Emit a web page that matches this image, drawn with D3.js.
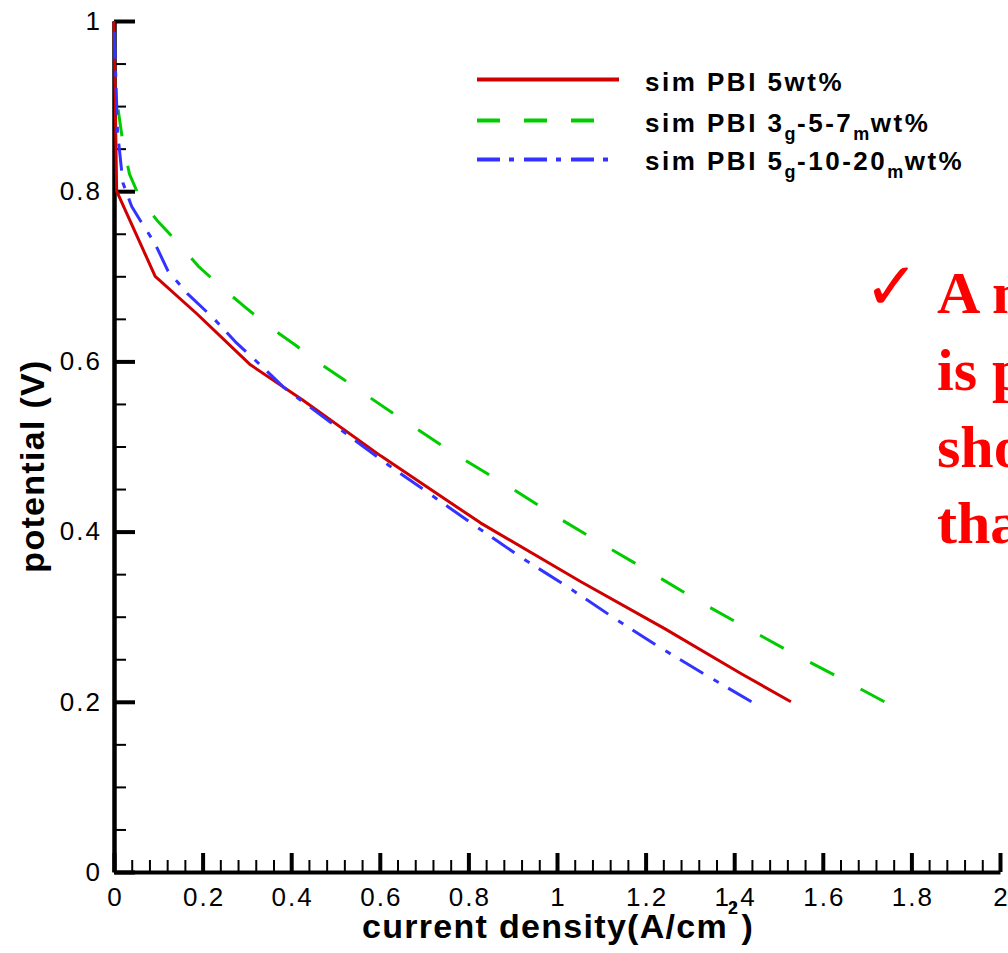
<!DOCTYPE html>
<html>
<head>
<meta charset="utf-8">
<script src="https://cdn.jsdelivr.net/npm/d3@7"></script>
<style>
  html, body { margin: 0; padding: 0; background: #fff; overflow: hidden; }
  svg { display: block; }
</style>
</head>
<body>
<svg id="chart" width="1008" height="953"></svg>
<script>
// ---- data ----
const xTicks = [0, 0.2, 0.4, 0.6, 0.8, 1, 1.2, 1.4, 1.6, 1.8, 2];
const yTicks = [0, 0.2, 0.4, 0.6, 0.8, 1];

const redX = [0, 0.006, 0.093, 0.187, 0.308, 0.425, 0.602, 0.828, 1.054, 1.243, 1.416, 1.528];
const redV = [1.0, 0.80, 0.70, 0.656, 0.596, 0.555, 0.489, 0.410, 0.341, 0.286, 0.233, 0.2];

const greenX = [0, 0.02, 0.035, 0.06, 0.10, 0.145, 0.19, 0.245, 0.30, 0.35, 0.41, 0.46, 0.515, 0.568, 0.624, 0.779, 0.888, 0.994, 1.103, 1.209, 1.314, 1.424, 1.532, 1.639, 1.739];
const greenV = [0.93, 0.857, 0.82, 0.79, 0.764, 0.739, 0.712, 0.686, 0.662, 0.641, 0.619, 0.599, 0.580, 0.561, 0.541, 0.488, 0.454, 0.419, 0.385, 0.353, 0.320, 0.288, 0.257, 0.228, 0.2];

const blueX = [0, 0.008, 0.02, 0.04, 0.06, 0.093, 0.122, 0.167, 0.224, 0.274, 0.33, 0.382, 0.42, 0.62, 0.70, 0.809, 0.918, 1.024, 1.13, 1.235, 1.344, 1.439];
const blueV = [1.0, 0.87, 0.81, 0.782, 0.765, 0.738, 0.706, 0.679, 0.651, 0.623, 0.596, 0.570, 0.555, 0.478, 0.449, 0.409, 0.370, 0.335, 0.298, 0.263, 0.229, 0.2];

const noteLines = ["A n", "is p", "sho", "tha"];

// ---- layout ----
const svg = d3.select("#chart");
const x = d3.scaleLinear().domain([0, 2]).range([114, 1000]);
const y = d3.scaleLinear().domain([0, 1]).range([872, 21]);

const series = [
  {x: redX, v: redV, color: "#d00000", dash: null, legDash: null},
  {x: greenX, v: greenV, color: "#00cc00", dash: "27,30", legDash: "23,24"},
  {x: blueX, v: blueV, color: "#3333ff", dash: "27,11,6,12", legDash: "23,9,5,10"}
];

const sansFont = "'Liberation Sans', Arial, sans-serif";

// minor ticks
const xMinor = d3.range(0, 2.0001, 0.04).filter(d => Math.abs(d / 0.2 - Math.round(d / 0.2)) > 1e-6);
const yMinor = d3.range(0, 1.0001, 0.05).filter(d => Math.abs(d / 0.2 - Math.round(d / 0.2)) > 1e-6);

const gxMinor = svg.append("g").attr("transform", "translate(0,872)")
  .call(d3.axisBottom(x).tickValues(xMinor).tickSizeInner(-12).tickSizeOuter(0).tickFormat(""));
gxMinor.select(".domain").remove();
gxMinor.selectAll(".tick line").attr("stroke", "#000").attr("stroke-width", 2);

const gyMinor = svg.append("g").attr("transform", "translate(114,0)")
  .call(d3.axisLeft(y).tickValues(yMinor).tickSizeInner(-12).tickSizeOuter(0).tickFormat(""));
gyMinor.select(".domain").remove();
gyMinor.selectAll(".tick line").attr("stroke", "#000").attr("stroke-width", 2);

// major axes
const gx = svg.append("g").attr("transform", "translate(0,872)")
  .call(d3.axisBottom(x).tickValues(xTicks).tickSizeInner(-19).tickSizeOuter(0).tickPadding(16)
    .tickFormat(d3.format("~g")));
gx.select(".domain").attr("stroke", "#000").attr("stroke-width", 4);
gx.selectAll(".tick line").attr("stroke", "#000").attr("stroke-width", 4);
gx.selectAll(".tick text").attr("font-family", sansFont)
  .attr("font-size", 26).attr("letter-spacing", 2).attr("dx", 1).attr("fill", "#000");

const gy = svg.append("g").attr("transform", "translate(114,0)")
  .call(d3.axisLeft(y).tickValues(yTicks).tickSizeInner(-21).tickSizeOuter(0).tickPadding(12)
    .tickFormat(d3.format("~g")));
gy.select(".domain").attr("stroke", "#000").attr("stroke-width", 4.5);
gy.selectAll(".tick line").attr("stroke", "#000").attr("stroke-width", 4);
gy.selectAll(".tick text").attr("font-family", sansFont)
  .attr("font-size", 26).attr("letter-spacing", 2).attr("fill", "#000");

// series lines (drawn from the high-current end so the dash pattern ends on a dash)
const line = d3.line().x(d => x(d[0])).y(d => y(d[1]));
series.forEach(s => {
  const pts = s.x.map((xv, i) => [xv, s.v[i]]).reverse();
  svg.append("path").datum(pts).attr("d", line)
    .attr("fill", "none").attr("stroke", s.color).attr("stroke-width", 3)
    .attr("stroke-dasharray", s.dash).attr("stroke-linejoin", "round");
});

// axis titles
svg.append("text")
  .attr("transform", "translate(44,466) rotate(-90)")
  .attr("text-anchor", "middle")
  .attr("font-family", sansFont)
  .attr("font-weight", "bold").attr("font-size", 34).attr("letter-spacing", 1.3)
  .text("potential (V)");

const xt = svg.append("text")
  .attr("x", 362).attr("y", 938)
  .attr("font-family", sansFont)
  .attr("font-weight", "bold").attr("font-size", 34).attr("letter-spacing", 1.3);
xt.append("tspan").text("current density(A/cm");
xt.append("tspan").attr("font-size", 18).attr("dy", -24).text("2");
xt.append("tspan").attr("dy", 24).attr("dx", 2).text(")");

// legend
const legY = [79.5, 120.5, 159.5];
const legBase = [91, 131.7, 170];
const legLen = [142, 117, 134];
series.forEach((s, i) => {
  svg.append("line").attr("x1", 477).attr("x2", 477 + legLen[i])
    .attr("y1", legY[i]).attr("y2", legY[i])
    .attr("stroke", s.color).attr("stroke-width", 4)
    .attr("stroke-dasharray", s.legDash);
});
function legText(i, parts) {
  const t = svg.append("text").attr("x", 645).attr("y", legBase[i])
    .attr("font-family", sansFont).attr("font-weight", "bold")
    .attr("font-size", 26).attr("letter-spacing", 2.5);
  let shift = 0;
  parts.forEach(p => {
    const ts = t.append("tspan").text(p.t);
    if (p.sub) { ts.attr("font-size", 18).attr("dy", 8).attr("letter-spacing", 1.5); shift = 8; }
    else if (shift) { ts.attr("dy", -shift); shift = 0; }
  });
}
legText(0, [{t: "sim PBI 5wt%"}]);
legText(1, [{t: "sim PBI 3"}, {t: "g", sub: true}, {t: "-5-7"}, {t: "m", sub: true}, {t: "wt%"}]);
legText(2, [{t: "sim PBI 5"}, {t: "g", sub: true}, {t: "-10-20"}, {t: "m", sub: true}, {t: "wt%"}]);

// red note text (clipped by page edge)
svg.append("text").attr("x", 864).attr("y", 309)
  .attr("font-family", "'DejaVu Sans', sans-serif").attr("font-size", 66).attr("font-weight", "bold")
  .attr("fill", "#ff0000").text("\u2713");
const noteBase = [313, 390, 467, 543];
noteLines.forEach((t, i) => {
  svg.append("text").attr("x", 937).attr("y", noteBase[i])
    .attr("font-family", "'Liberation Serif', 'Times New Roman', serif")
    .attr("font-weight", "bold").attr("font-size", 60).attr("fill", "#ff0000")
    .text(t);
});
</script>
</body>
</html>
